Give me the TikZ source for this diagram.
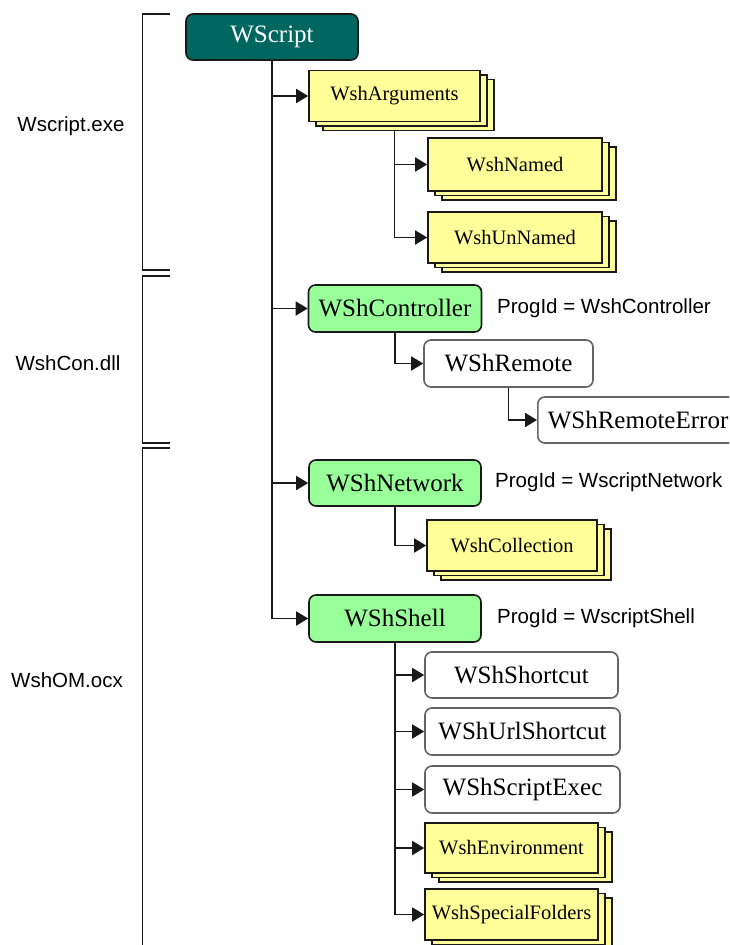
\documentclass[tikz,border=0pt]{standalone}
\usepackage{fontspec}
\setmainfont{Liberation Serif}
\newfontfamily\labelfont{Liberation Sans}
\usetikzlibrary{arrows.meta,shadows,backgrounds}
\definecolor{teal0}{RGB}{0,102,96}
\definecolor{green0}{RGB}{153,255,153}
\definecolor{yel0}{RGB}{255,255,153}
\definecolor{edge0}{RGB}{25,25,25}
\definecolor{gray0}{RGB}{100,100,100}
\begin{document}
\begin{tikzpicture}[x=1pt,y=-1pt,
  base/.style={draw=edge0, line width=1.6pt, inner sep=0pt},
  bigtext/.style={font=\fontsize{25}{30}\selectfont},
  rootbox/.style={base, rounded corners=7pt, fill=teal0, text=white, bigtext, minimum width=172pt, minimum height=46pt},
  greenbox/.style={base, rounded corners=7pt, fill=green0, bigtext, minimum width=173pt, minimum height=47pt},
  whitebox/.style={base, draw=gray0, rounded corners=7pt, fill=white, bigtext, minimum height=47pt},
  collbox/.style={base, fill=yel0, font=\fontsize{20.5}{24}\selectfont, minimum height=51pt,
     copy shadow={shadow xshift=14pt, shadow yshift=-9pt, fill=yel0, draw=edge0, line width=1.6pt},
     copy shadow={shadow xshift=7pt, shadow yshift=-4.5pt, fill=yel0, draw=edge0, line width=1.6pt}},
  link/.style={draw=edge0, line width=1.8pt},
  arr/.style={link, -{Triangle[length=12pt,width=14pt]}},
  bracket/.style={draw=edge0, line width=1.8pt},
  lbl/.style={font=\labelfont\fontsize{20.5}{24}\selectfont, inner sep=0pt}
]
\clip (0,0) rectangle (729,945);

% brackets
\draw[bracket] (170,14) -- (142.5,14) -- (142.5,270) -- (170,270);
\draw[bracket] (170,276) -- (142.5,276) -- (142.5,443) -- (170,443);
\draw[bracket] (170,448) -- (142.5,448) -- (142.5,950);

\node[lbl] (lexe) at (71,126) {Wscript.exe};
\node[lbl] (ldll) at (68,363) {WshCon.dll};
\node[lbl] (locx) at (67,680) {WshOM.ocx};

% nodes
\node[rootbox] (ws) at (272,37) {WScript};
\node[collbox, minimum width=171pt] (args) at (394.5,96) {WshArguments};
\node[collbox, minimum width=174pt, minimum height=53pt] (named) at (515,164.5) {WshNamed};
\node[collbox, minimum width=174pt] (unnamed) at (515,237.5) {WshUnNamed};
\node[greenbox] (ctrl) at (395,308.5) {WShController};
\node[whitebox, minimum width=169pt] (remote) at (508.5,363.5) {WShRemote};
\node[whitebox, anchor=west, text width=190pt, align=left, inner xsep=10pt, minimum height=46pt] (rerr) at (537,420) {WShRemoteError};
\node[greenbox, minimum width=172pt, minimum height=46pt] (net) at (395,483) {WShNetwork};
\node[collbox, minimum width=170pt] (coll) at (512,545.5) {WshCollection};
\node[greenbox, minimum width=172pt] (shell) at (395,618.5) {WShShell};
\node[whitebox, minimum width=193pt, minimum height=46pt] (sc) at (521.5,675) {WShShortcut};
\node[whitebox, minimum width=195pt] (url) at (522.5,731.5) {WShUrlShortcut};
\node[whitebox, minimum width=195pt] (exec) at (522.5,789.5) {WShScriptExec};
\node[collbox, minimum width=173pt, minimum height=50pt] (env) at (511.5,848) {WshEnvironment};
\node[collbox, minimum width=173pt] (spec) at (511.5,914.5) {WshSpecialFolders};

\node[lbl, anchor=west] (pctrl) at (497,308) {ProgId = WshController};
\node[lbl, anchor=west] (pnet) at (495,482) {ProgId = WscriptNetwork};
\node[lbl, anchor=west] (pshell) at (497,618) {ProgId = WscriptShell};

% connectors
\begin{scope}[on background layer]
\fill[white] (0,0) rectangle (729,945);
\draw[link] (ws.south) -- (ws.south |- shell.west);
\draw[link] (args.south) -- (args.south |- unnamed.west);
\draw[link] (shell.south) -- (shell.south |- spec.west);
\end{scope}
\draw[arr] (ws.south |- args.west) -- (args.west);
\draw[arr] (ws.south |- ctrl.west) -- (ctrl.west);
\draw[arr] (ws.south |- net.west) -- (net.west);
\draw[arr] (ws.south |- shell.west) -- (shell.west);
\draw[arr] (args.south |- named.west) -- (named.west);
\draw[arr] (args.south |- unnamed.west) -- (unnamed.west);
\draw[arr] (ctrl.south) |- (remote.west);
\draw[arr] (remote.south) |- (rerr.west);
\draw[arr] (net.south) |- (coll.west);
\draw[arr] (shell.south |- sc.west) -- (sc.west);
\draw[arr] (shell.south |- url.west) -- (url.west);
\draw[arr] (shell.south |- exec.west) -- (exec.west);
\draw[arr] (shell.south |- env.west) -- (env.west);
\draw[arr] (shell.south |- spec.west) -- (spec.west);
\end{tikzpicture}
\end{document}
